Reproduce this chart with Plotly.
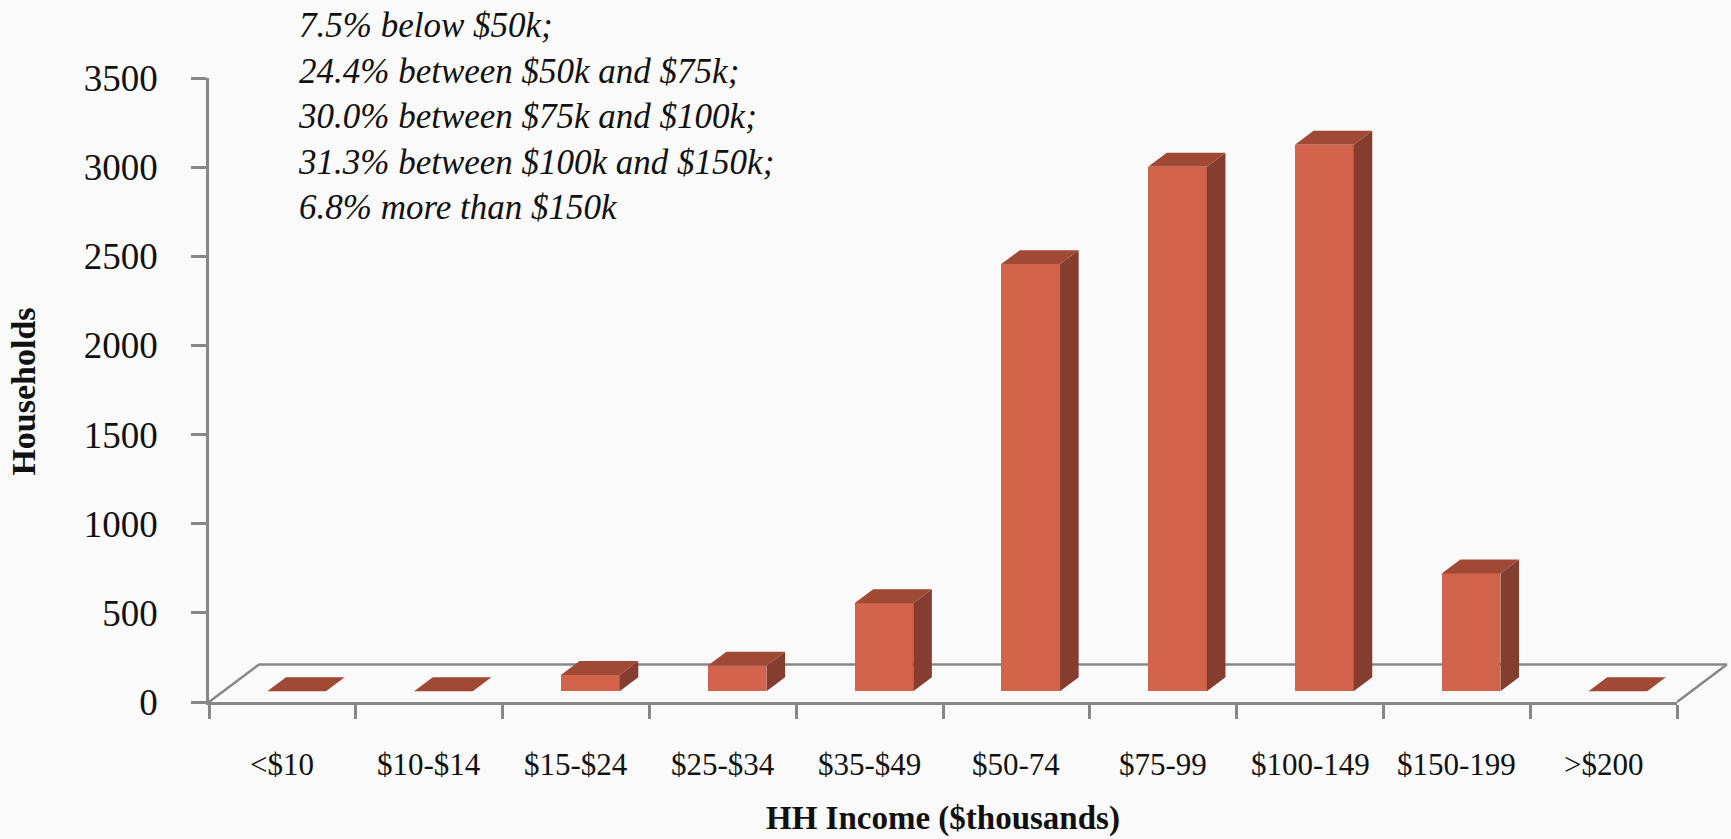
import plotly.graph_objects as go

# ---- data -------------------------------------------------------------
categories = ["<$10", "$10-$14", "$15-$24", "$25-$34", "$35-$49",
              "$50-74", "$75-99", "$100-149", "$150-199", ">$200"]
households = [0, 0, 92, 143, 494, 2396, 2942, 3066, 661, 0]
y_ticks = [0, 500, 1000, 1500, 2000, 2500, 3000, 3500]
note_lines = [
    "7.5% below $50k;",
    "24.4% between $50k and $75k;",
    "30.0% between $75k and $100k;",
    "31.3% between $100k and $150k;",
    "6.8% more than $150k",
]

# ---- oblique 3-D geometry (axis units) ---------------------------------
Y_MAX = 3500
N = len(categories)
FLOOR_DX = 0.34      # horizontal depth of the floor, in categories
FLOOR_DY = 210       # vertical depth of the floor, in households
BAR_W = 0.40         # bar width, in categories
BAR_FRONT = 0.286    # depth fraction where the bar front face sits
BAR_DEPTH = 0.373    # depth fraction taken by the bar

FRONT = "#D4634B"
TOP = "#A04A36"
SIDE = "#843D2E"
AXIS = "#878787"
SERIF = "Liberation Serif"

base = BAR_FRONT * FLOOR_DY
shift = BAR_FRONT * FLOOR_DX
ddx = BAR_DEPTH * FLOOR_DX
ddy = BAR_DEPTH * FLOOR_DY
centers = [i + 0.5 + shift for i in range(N)]

# top and side faces of every bar, as closed polygons
top_x, top_y, side_x, side_y = [], [], [], []
for c, v in zip(centers, households):
    xl, xr, yt = c - BAR_W / 2, c + BAR_W / 2, base + v
    top_x += [xl, xr, xr + ddx, xl + ddx, xl, None]
    top_y += [yt, yt, yt + ddy, yt + ddy, yt, None]
    side_x += [xr, xr, xr + ddx, xr + ddx, xr, None]
    side_y += [base, yt, yt + ddy, base + ddy, base, None]

fig = go.Figure()
fig.add_trace(go.Bar(
    x=centers, y=households, base=base, width=BAR_W,
    marker=dict(color=FRONT, line=dict(width=0)),
    hovertext=categories, showlegend=False,
))
fig.add_trace(go.Scatter(
    x=side_x, y=side_y, mode="lines", fill="toself", fillcolor=SIDE,
    line=dict(width=0, color=SIDE), hoverinfo="skip", showlegend=False,
))
fig.add_trace(go.Scatter(
    x=top_x, y=top_y, mode="lines", fill="toself", fillcolor=TOP,
    line=dict(width=0, color=TOP), hoverinfo="skip", showlegend=False,
))

# floor outline (back edge and the two receding edges)
fx, fy = FLOOR_DX / N, FLOOR_DY / Y_MAX
floor = [((0, 0), (fx, fy)), ((fx, fy), (1 + fx, fy)), ((1, 0), (1 + fx, fy))]
shapes = [
    dict(type="line", xref="x domain", yref="y domain",
         x0=a[0], y0=a[1], x1=b[0], y1=b[1], layer="below",
         line=dict(color=AXIS, width=2.5))
    for a, b in floor
]

annotations = []
for i, name in enumerate(categories):
    annotations.append(dict(
        text=name, x=i + 0.5, xref="x", y=0, yref="paper",
        yanchor="middle", yshift=-62, showarrow=False,
        font=dict(family=SERIF, size=31, color="#111111"),
    ))
annotations.append(dict(
    text="<b>HH Income ($thousands)</b>", x=N / 2, xref="x", y=0, yref="paper",
    yanchor="middle", yshift=-116, showarrow=False,
    font=dict(family=SERIF, size=33, color="#111111"),
))
annotations.append(dict(
    text="<b>Households</b>", textangle=-90, x=-0.1262, xref="paper",
    y=0.497, yref="paper", xanchor="center", yanchor="middle", showarrow=False,
    font=dict(family=SERIF, size=34, color="#111111"),
))
annotations.append(dict(
    text="<br>".join(f"<i>{t}</i>" for t in note_lines),
    x=0.059, xref="paper", y=0.939, yref="paper",
    xanchor="left", yanchor="middle", align="left", showarrow=False,
    font=dict(family=SERIF, size=35, color="#111111"),
))

fig.update_layout(
    width=1731, height=839,
    margin=dict(l=209.3, r=53.7, t=78.3, b=137.3, autoexpand=False),
    paper_bgcolor="#FAFAFA", plot_bgcolor="rgba(0,0,0,0)",
    shapes=shapes, annotations=annotations, bargap=0,
    xaxis=dict(
        range=[0, N], showline=True, linecolor=AXIS, linewidth=2.5,
        ticks="outside", tickvals=list(range(N + 1)), ticklen=14,
        tickwidth=2.5, tickcolor=AXIS, showticklabels=False,
        showgrid=False, zeroline=False, fixedrange=True,
    ),
    yaxis=dict(
        range=[0, Y_MAX], showline=True, linecolor=AXIS, linewidth=2.5,
        ticks="outside", tickvals=y_ticks, ticktext=[str(v) for v in y_ticks],
        ticklen=15, tickwidth=2.5, tickcolor=AXIS, ticklabelstandoff=26,
        tickfont=dict(family=SERIF, size=37, color="#111111"),
        showgrid=False, zeroline=False, fixedrange=True,
    ),
)

fig.write_html("out.html")
